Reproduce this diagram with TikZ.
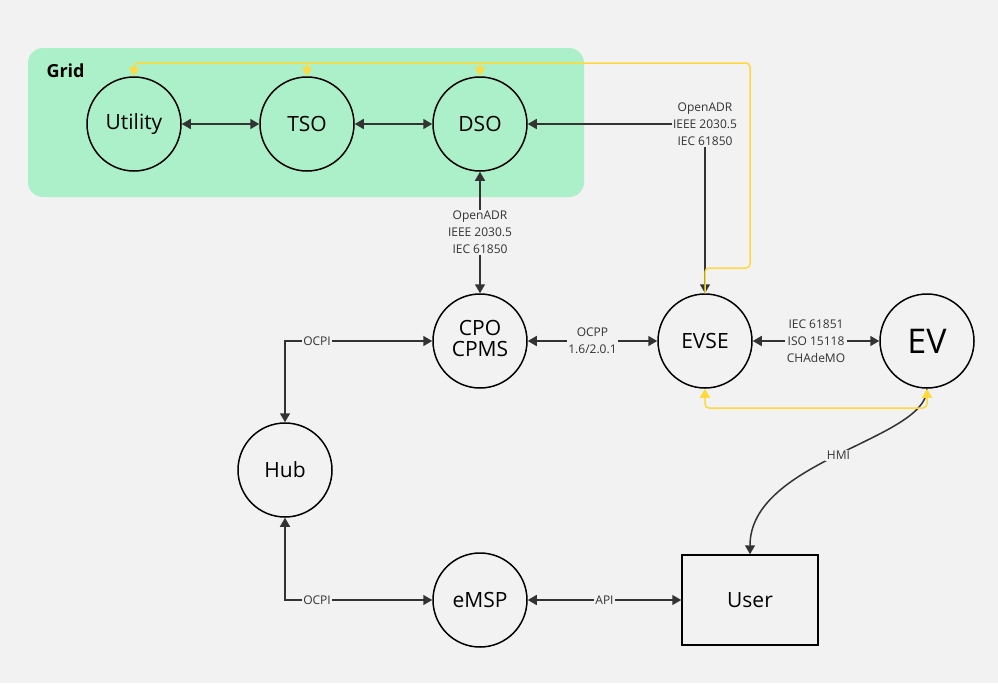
\documentclass[tikz,border=0pt]{standalone}
\usepackage{fontspec}
\setmainfont{Open Sans}
\usetikzlibrary{arrows.meta}
\definecolor{bg}{HTML}{F2F2F2}
\definecolor{gridg}{HTML}{ABF0C8}
\definecolor{ylw}{HTML}{FFD93D}
\definecolor{ink}{HTML}{333333}
\begin{document}
\begin{tikzpicture}[x=1pt,y=-1pt,
  circ/.style={circle,draw=black,line width=1.5pt,minimum size=94pt,inner sep=0pt,font=\fontsize{21}{24}\selectfont},
  conn/.style={draw=ink,line width=1.5pt,{Triangle[length=9pt,width=10pt]}-{Triangle[length=9pt,width=10pt]}},
  yconn/.style={draw=ylw,line width=1.5pt,rounded corners=4pt},
  lbl/.style={fill=bg,inner sep=1.5pt,text=ink,align=center,font=\fontsize{12}{17}\selectfont}]
\fill[bg] (0,0) rectangle (998,683);
\useasboundingbox (0,0) rectangle (998,683);
\fill[gridg,rounded corners=15pt] (28,48) rectangle (584,197);
\node[anchor=west,font=\bfseries\fontsize{18}{20}\selectfont] (gridlbl) at (43,71) {Grid};
\node[circ] (util) at (134,124) {Utility};
\node[circ] (tso) at (307,124) {TSO};
\node[circ] (dso) at (480,124) {DSO};
\node[circ] (cpo) at (480,341) {\begin{tabular}{@{}c@{}}CPO\\[-3pt]CPMS\end{tabular}};
\node[circ] (evse) at (705,341) {EVSE};
\node[circ,font=\fontsize{34}{36}\selectfont] (ev) at (927,341) {EV};
\node[circ] (hub) at (285,470) {Hub};
\node[circ] (emsp) at (480,600) {eMSP};
\node[draw=black,line width=1.5pt,minimum width=136pt,minimum height=90pt,font=\fontsize{21}{24}\selectfont] (user) at (750,600) {User};
% black connectors
\draw[conn] (util) -- (tso);
\draw[conn] (tso) -- (dso);
\draw[conn] (dso) -- node[lbl]{OpenADR\\IEEE 2030.5\\IEC 61850} (cpo);
\draw[conn] (cpo) -- node[lbl]{OCPP\\1.6/2.0.1} (evse);
\draw[conn] (evse) -- node[lbl]{IEC 61851\\ISO 15118\\CHAdeMO} (ev);
\draw[conn] (emsp) -- node[lbl]{API} (user);
\draw[conn] (evse.north) -- (705,124) node[lbl]{OpenADR\\IEEE 2030.5\\IEC 61850} -- (dso.east);
\draw[conn] (cpo.west) -- (317,341) node[lbl]{OCPI} -| (hub.north);
\draw[conn] (hub.south) |- (317,600) node[lbl]{OCPI} -- (emsp.west);
\draw[draw=ink,line width=1.5pt,-{Triangle[length=9pt,width=10pt]}] (ev.south) .. controls (927,440) and (750,460) .. node[lbl,pos=0.5]{HMI} (user.north);
% yellow
\coordinate (yc) at (750,63);
\draw[yconn,-{Triangle[length=9pt,width=10pt]}] (evse.north) -- (705,268) -- (750,268) -- (yc) -- (134,63) -- (util.north);
\draw[yconn,-{Triangle[length=9pt,width=10pt]}] (307,63) -- (tso.north);
\draw[yconn,-{Triangle[length=9pt,width=10pt]}] (480,63) -- (dso.north);
\draw[yconn,{Triangle[length=9pt,width=10pt]}-{Triangle[length=9pt,width=10pt]}] (evse.south) -- (705,408) -- (927,408) -- (ev.south);
\end{tikzpicture}
\end{document}
